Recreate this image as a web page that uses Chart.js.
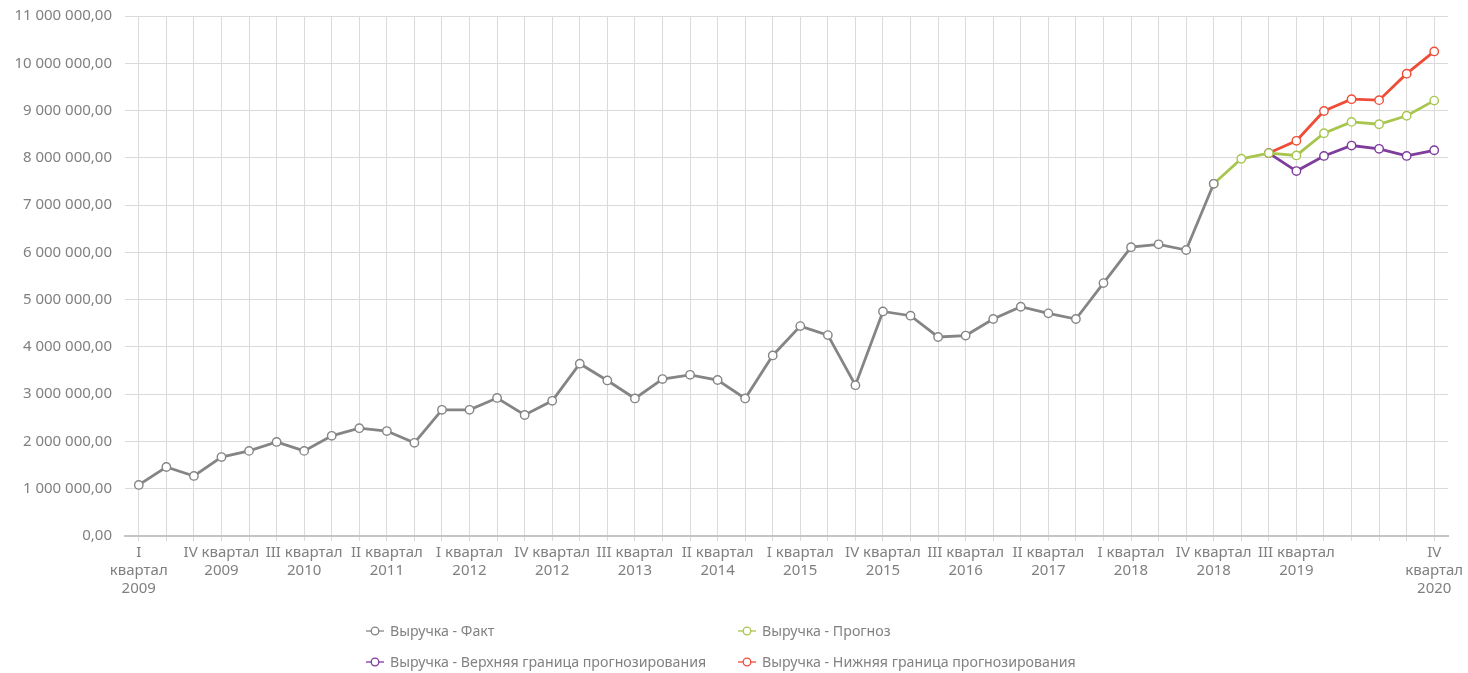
<!DOCTYPE html>
<html><head><meta charset="utf-8">
<script src="https://cdn.jsdelivr.net/npm/chart.js@4"></script>
<style>
html,body{margin:0;padding:0;background:#fff;}
#wrap{position:relative;width:1468px;height:673px;}
canvas{display:block;}
.leg{position:absolute;font-family:"Noto Sans";font-size:14.2px;color:#828282;display:flex;align-items:center;white-space:nowrap;line-height:1;height:18px;}
.leg svg{margin-right:6px;}
</style></head><body>
<div id="wrap"><canvas id="c" width="1468" height="673"></canvas><div id="legend"></div></div>
<script>
const years = [2009, 2010, 2011, 2012, 2013, 2014, 2015, 2016, 2017, 2018, 2019, 2020];
const quarterNames = ['I', 'II', 'III', 'IV'];
const categories = [];
for (const y of years) for (const q of quarterNames) categories.push(q + ' квартал ' + y);

// indices of categories whose labels are shown on the axis
const shownTickIndices = [0, 3, 6, 9, 12, 15, 18, 21, 24, 27, 30, 33, 36, 39, 42, 47];
const edgeTickIndices = [0, 47];

const seriesNames = ['Выручка - Факт', 'Выручка - Прогноз', 'Выручка - Верхняя граница прогнозирования', 'Выручка - Нижняя граница прогнозирования'];
const seriesColors = ['#858585', '#a8c64e', '#7e3c9c', '#ee4d38'];

const factValues = [1080000, 1460000, 1270000, 1670000, 1800000, 1990000, 1800000, 2120000, 2280000, 2220000,
  1970000, 2670000, 2670000, 2920000, 2560000, 2860000, 3645000, 3290000, 2910000, 3320000,
  3410000, 3300000, 2910000, 3820000, 4440000, 4250000, 3190000, 4750000, 4660000, 4210000,
  4240000, 4590000, 4850000, 4710000, 4590000, 5350000, 6110000, 6170000, 6050000, 7450000,
  null, null, null, null, null, null, null, null];
const forecastValues = Array(39).fill(null).concat([7450000, 7980000, 8100000, 8050000, 8520000, 8760000, 8710000, 8890000, 9210000]);
const upperValues = Array(41).fill(null).concat([8100000, 7720000, 8040000, 8260000, 8190000, 8040000, 8160000]);
const lowerValues = Array(41).fill(null).concat([8100000, 8360000, 8990000, 9240000, 9220000, 9780000, 10250000]);
const seriesValues = [factValues, forecastValues, upperValues, lowerValues];

const yMax = 11000000;
const yStep = 1000000;

function tickLabel(i) {
  if (!shownTickIndices.includes(i)) return '';
  const parts = categories[i].split(' ');
  if (edgeTickIndices.includes(i)) return [parts[0], parts[1], parts[2]];
  return [parts[0] + ' ' + parts[1], parts[2]];
}
function fmt(v) {
  const s = Math.round(v).toString().replace(/\B(?=(\d{3})+(?!\d))/g, ' ');
  return s + ',00';
}

const textColor = '#808080';
const axisFont = { family: 'Noto Sans', size: 15, lineHeight: 1.2 };

new Chart(document.getElementById('c'), {
  type: 'line',
  data: {
    labels: categories,
    datasets: seriesValues.map((vals, k) => ({
      label: seriesNames[k],
      data: vals,
      borderColor: seriesColors[k],
      backgroundColor: '#ffffff',
      borderWidth: 2.8,
      pointRadius: 4.2,
      pointBorderWidth: 1.4,
      pointBackgroundColor: '#ffffff',
      pointBorderColor: seriesColors[k],
      tension: 0,
      spanGaps: false,
      fill: false
    }))
  },
  options: {
    responsive: false,
    animation: false,
    layout: { padding: { top: 16, left: 0, right: 20, bottom: 70 } },
    plugins: { legend: { display: false }, tooltip: { enabled: false } },
    scales: {
      x: {
        offset: true,
        grid: { color: '#dadada', lineWidth: 1, offset: false, drawTicks: true, tickLength: 5 },
        border: { color: '#c4c4c4', width: 2 },
        ticks: {
          autoSkip: false, maxRotation: 0, minRotation: 0, padding: 3,
          color: textColor, font: axisFont,
          callback: (v, i) => tickLabel(i)
        },
        afterFit: s => { s.height = 67; }
      },
      y: {
        min: 0, max: yMax,
        grid: { color: '#dadada', lineWidth: 1, drawTicks: false },
        border: { display: false },
        ticks: { stepSize: yStep, padding: 13, color: textColor, font: axisFont, callback: v => fmt(v) },
        afterFit: s => { s.width = 125; s.paddingTop = 0; s.paddingBottom = 0; }
      }
    }
  }
});

// legend (two columns, two rows)
const legendPos = [[366, 622], [738, 622], [366, 653], [738, 653]];
const legend = document.getElementById('legend');
seriesNames.forEach((name, k) => {
  const d = document.createElement('div');
  d.className = 'leg';
  d.style.left = legendPos[k][0] + 'px';
  d.style.top = legendPos[k][1] + 'px';
  d.innerHTML = '<svg width="18" height="12"><line x1="0" y1="6" x2="18" y2="6" stroke="' + seriesColors[k] + '" stroke-width="1.3"/><circle cx="9" cy="6" r="3.8" fill="#fff" stroke="' + seriesColors[k] + '" stroke-width="1.3"/></svg>';
  const t = document.createElement('span');
  t.textContent = name;
  d.appendChild(t);
  legend.appendChild(d);
});
</script>
</body></html>
